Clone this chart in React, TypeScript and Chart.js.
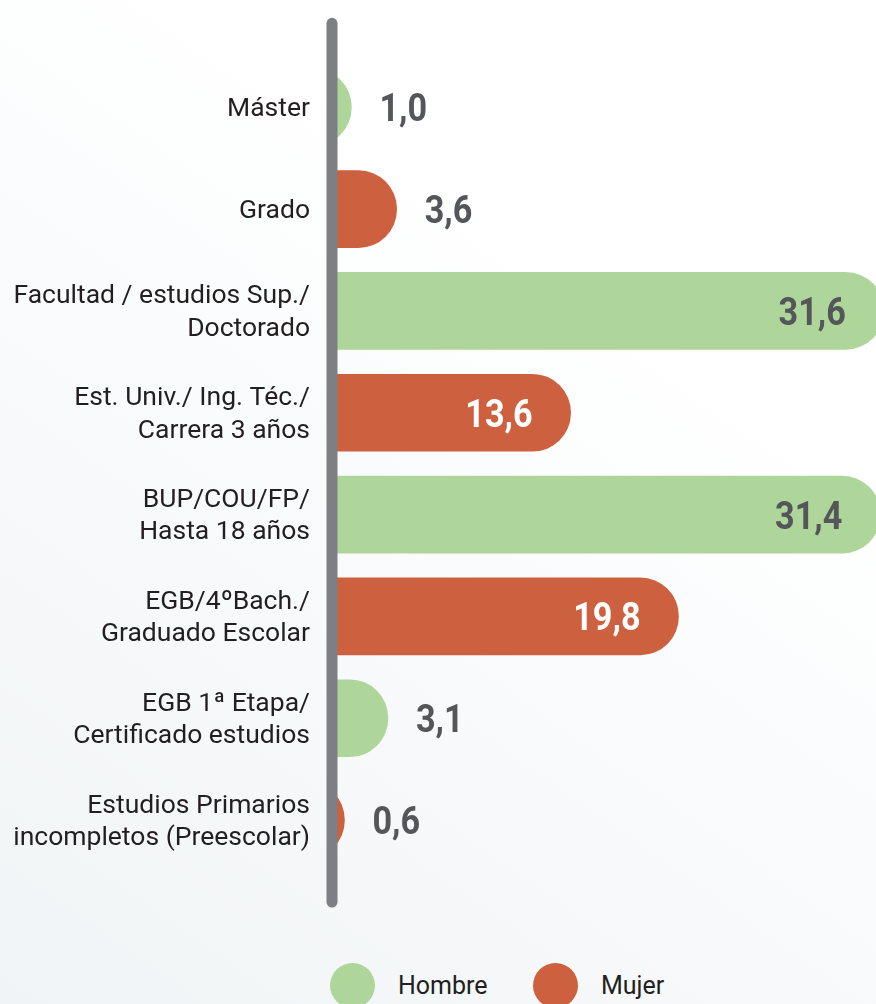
import React, { useEffect, useRef } from "react";
import { Chart, registerables } from "chart.js";

Chart.register(...registerables);

const categories: string[][] = [
  ["Máster"],
  ["Grado"],
  ["Facultad / estudios Sup./", "Doctorado"],
  ["Est. Univ./ Ing. Téc./", "Carrera 3 años"],
  ["BUP/COU/FP/", "Hasta 18 años"],
  ["EGB/4ºBach./", "Graduado Escolar"],
  ["EGB 1ª Etapa/", "Certificado estudios"],
  ["Estudios Primarios", "incompletos (Preescolar)"],
];
const hombreValues: (number | null)[] = [1.0, null, 31.6, null, 31.4, null, 3.1, null];
const mujerValues: (number | null)[] = [null, 3.6, null, 13.6, null, 19.8, null, 0.6];
const seriesNames = ["Hombre", "Mujer"];

const GREEN = "#afd69a";
const ORANGE = "#cd603e";
const AXIS_GRAY = "#7e7f83";
const VALUE_GRAY = "#545659";
const LABEL_COLOR = "#231f20";
const FONT = "Roboto, 'Noto Sans', sans-serif";

const fmt = (v: number) => v.toFixed(1).replace(".", ",");

const decorPlugin = {
  id: "decor",
  afterDatasetsDraw(chart: any) {
    const ctx = chart.ctx as CanvasRenderingContext2D;
    const area = chart.chartArea;
    // vertical axis line
    ctx.save();
    ctx.strokeStyle = AXIS_GRAY;
    ctx.lineWidth = 11;
    ctx.lineCap = "round";
    ctx.beginPath();
    const lx = area.left - 2;
    ctx.moveTo(lx, area.top - 33);
    ctx.lineTo(lx, area.bottom + 31);
    ctx.stroke();
    ctx.restore();

    // value labels
    chart.data.datasets.forEach((ds: any, di: number) => {
      const meta = chart.getDatasetMeta(di);
      meta.data.forEach((el: any, i: number) => {
        const v = ds.data[i];
        if (v === null || v === undefined) return;
        const y = el.y + 14;
        const txt = fmt(v);
        ctx.save();
        ctx.font = `bold 38px ${FONT}`;
        if (v > 10) {
          ctx.textAlign = "right";
          ctx.fillStyle = di === 1 ? "#ffffff" : VALUE_GRAY;
          ctx.translate(el.x - 38, y);
        } else {
          ctx.textAlign = "left";
          ctx.fillStyle = VALUE_GRAY;
          ctx.translate(el.x + 28, y);
        }
        ctx.scale(0.9, 1);
        ctx.fillText(txt, 0, 0);
        ctx.restore();
      });
    });
  },
};

export default function App() {
  const ref = useRef<HTMLCanvasElement | null>(null);

  useEffect(() => {
    if (!ref.current) return;
    const chart = new Chart(ref.current, {
      type: "bar",
      data: {
        labels: categories,
        datasets: [
          {
            label: seriesNames[0],
            data: hombreValues,
            backgroundColor: GREEN,
            borderWidth: 0,
            borderRadius: 40,
            borderSkipped: "start",
            base: -6,
            clip: 0,
            barThickness: 77,
          } as any,
          {
            label: seriesNames[1],
            data: mujerValues,
            backgroundColor: ORANGE,
            borderWidth: 0,
            borderRadius: 40,
            borderSkipped: "start",
            base: -6,
            clip: 0,
            barThickness: 77,
          } as any,
        ],
      },
      options: {
        indexAxis: "y",
        responsive: false,
        animation: false,
        layout: { padding: { top: 55, bottom: 69, left: 0, right: 0 } },
        plugins: {
          legend: { display: false },
          tooltip: { enabled: false },
        },
        datasets: { bar: { grouped: false } } as any,
        scales: {
          x: {
            display: false,
            min: 0,
            max: 31.15,
          },
          y: {
            grid: { display: false, drawTicks: false },
            border: { display: false },
            afterFit: (scale: any) => {
              scale.width = 334;
            },
            ticks: {
              padding: 24,
              labelOffset: 2,
              color: LABEL_COLOR,
              font: { family: FONT, size: 26.5, lineHeight: 1.22 },
              autoSkip: false,
            },
          },
        },
      },
      plugins: [decorPlugin],
    });
    return () => chart.destroy();
  }, []);

  return (
    <div
      style={{
        position: "absolute",
        left: 0,
        top: 0,
        width: 876,
        height: 1004,
        overflow: "hidden",
        background:
          "linear-gradient(35deg, #f1f4f6 0%, #f8fafb 40%, #ffffff 70%)",
      }}
    >
      <canvas
        ref={ref}
        width={876}
        height={940}
        style={{ position: "absolute", left: 0, top: 0, display: "block" }}
      />
      <div
        style={{
          position: "absolute",
          top: 963,
          left: 330,
          display: "flex",
          alignItems: "center",
          fontFamily: FONT,
          fontSize: 25,
          color: LABEL_COLOR,
        }}
      >
        <div style={{ width: 45, height: 45, borderRadius: "50%", background: GREEN }} />
        <span style={{ marginLeft: 23, width: 135 }}>{seriesNames[0]}</span>
        <div style={{ width: 45, height: 45, borderRadius: "50%", background: ORANGE }} />
        <span style={{ marginLeft: 23 }}>{seriesNames[1]}</span>
      </div>
    </div>
  );
}
